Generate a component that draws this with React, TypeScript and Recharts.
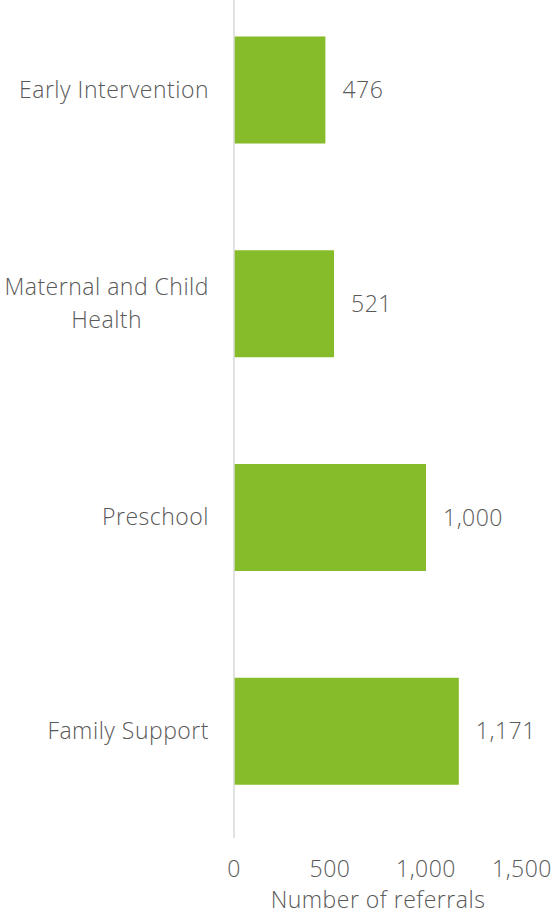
import React from 'react'
import { Bar, BarChart, LabelList, XAxis, YAxis } from 'recharts'

const categories = ['Early Intervention', 'Maternal and Child Health', 'Preschool', 'Family Support']
const referrals = [476, 521, 1000, 1171]
const xTicks = [0, 500, 1000, 1500]

const FONT = '"Open Sans", "Noto Sans", sans-serif'
const FONT_SIZE = 23
const LETTER_SPACING = 0.5
const TEXT_COLOR = '#595959'
const BAR_COLOR = '#86bc29'

const chartData = categories.map((name, i) => ({ name, value: referrals[i] }))

const textStyle = {
  fontSize: FONT_SIZE,
  fill: TEXT_COLOR,
  fontFamily: FONT,
  fontWeight: 300,
  letterSpacing: LETTER_SPACING,
}

let measureCtx: CanvasRenderingContext2D | null = null
function textWidth(s: string) {
  if (!measureCtx) measureCtx = document.createElement('canvas').getContext('2d')
  if (!measureCtx) return s.length * FONT_SIZE * 0.55
  measureCtx.font = `300 ${FONT_SIZE}px ${FONT}`
  return measureCtx.measureText(s).width + s.length * LETTER_SPACING
}

// break a category name into lines no wider than maxWidth
function wrap(label: string, maxWidth: number) {
  const words = label.split(' ')
  const lines: string[] = []
  let cur = ''
  for (const w of words) {
    const next = cur ? `${cur} ${w}` : w
    if (cur && textWidth(next) > maxWidth) {
      lines.push(cur)
      cur = w
    } else {
      cur = next
    }
  }
  if (cur) lines.push(cur)
  return lines
}

function CategoryTick({ x, y, payload }: any) {
  const lines = wrap(String(payload.value), 215)
  const blockW = Math.max(...lines.map(textWidth))
  const lineH = 33
  const top = y - ((lines.length - 1) * lineH) / 2
  return (
    <g>
      {lines.map((line, i) => (
        <text
          key={i}
          x={x - blockW / 2}
          y={top + i * lineH}
          dy="0.35em"
          textAnchor="middle"
          {...textStyle}
        >
          {line}
        </text>
      ))}
    </g>
  )
}

export default function App() {
  return (
    <div style={{ position: 'absolute', left: 0, top: -17, width: 551, height: 929 }}>
      <BarChart
        width={551}
        height={929}
        data={chartData}
        layout="vertical"
        margin={{ top: 0, right: 29, left: 0, bottom: 0 }}
        barCategoryGap="25%"
      >
        <XAxis
          type="number"
          domain={[0, 1500]}
          ticks={xTicks}
          tickFormatter={(v) => Number(v).toLocaleString('en-US')}
          axisLine={false}
          tickLine={false}
          tickSize={0}
          tickMargin={23}
          height={74}
          tick={textStyle}
          label={{ value: 'Number of referrals', position: 'insideBottom', offset: 4, ...textStyle }}
        />
        <YAxis
          type="category"
          dataKey="name"
          width={234}
          axisLine={{ stroke: '#d9d9d9', strokeWidth: 1.5 }}
          tickLine={false}
          tickSize={0}
          tickMargin={25}
          tick={<CategoryTick />}
          interval={0}
        />
        <Bar dataKey="value" fill={BAR_COLOR} isAnimationActive={false}>
          <LabelList
            dataKey="value"
            position="right"
            offset={17}
            formatter={(v: any) => Number(v).toLocaleString('en-US')}
            {...textStyle}
          />
        </Bar>
      </BarChart>
    </div>
  )
}
